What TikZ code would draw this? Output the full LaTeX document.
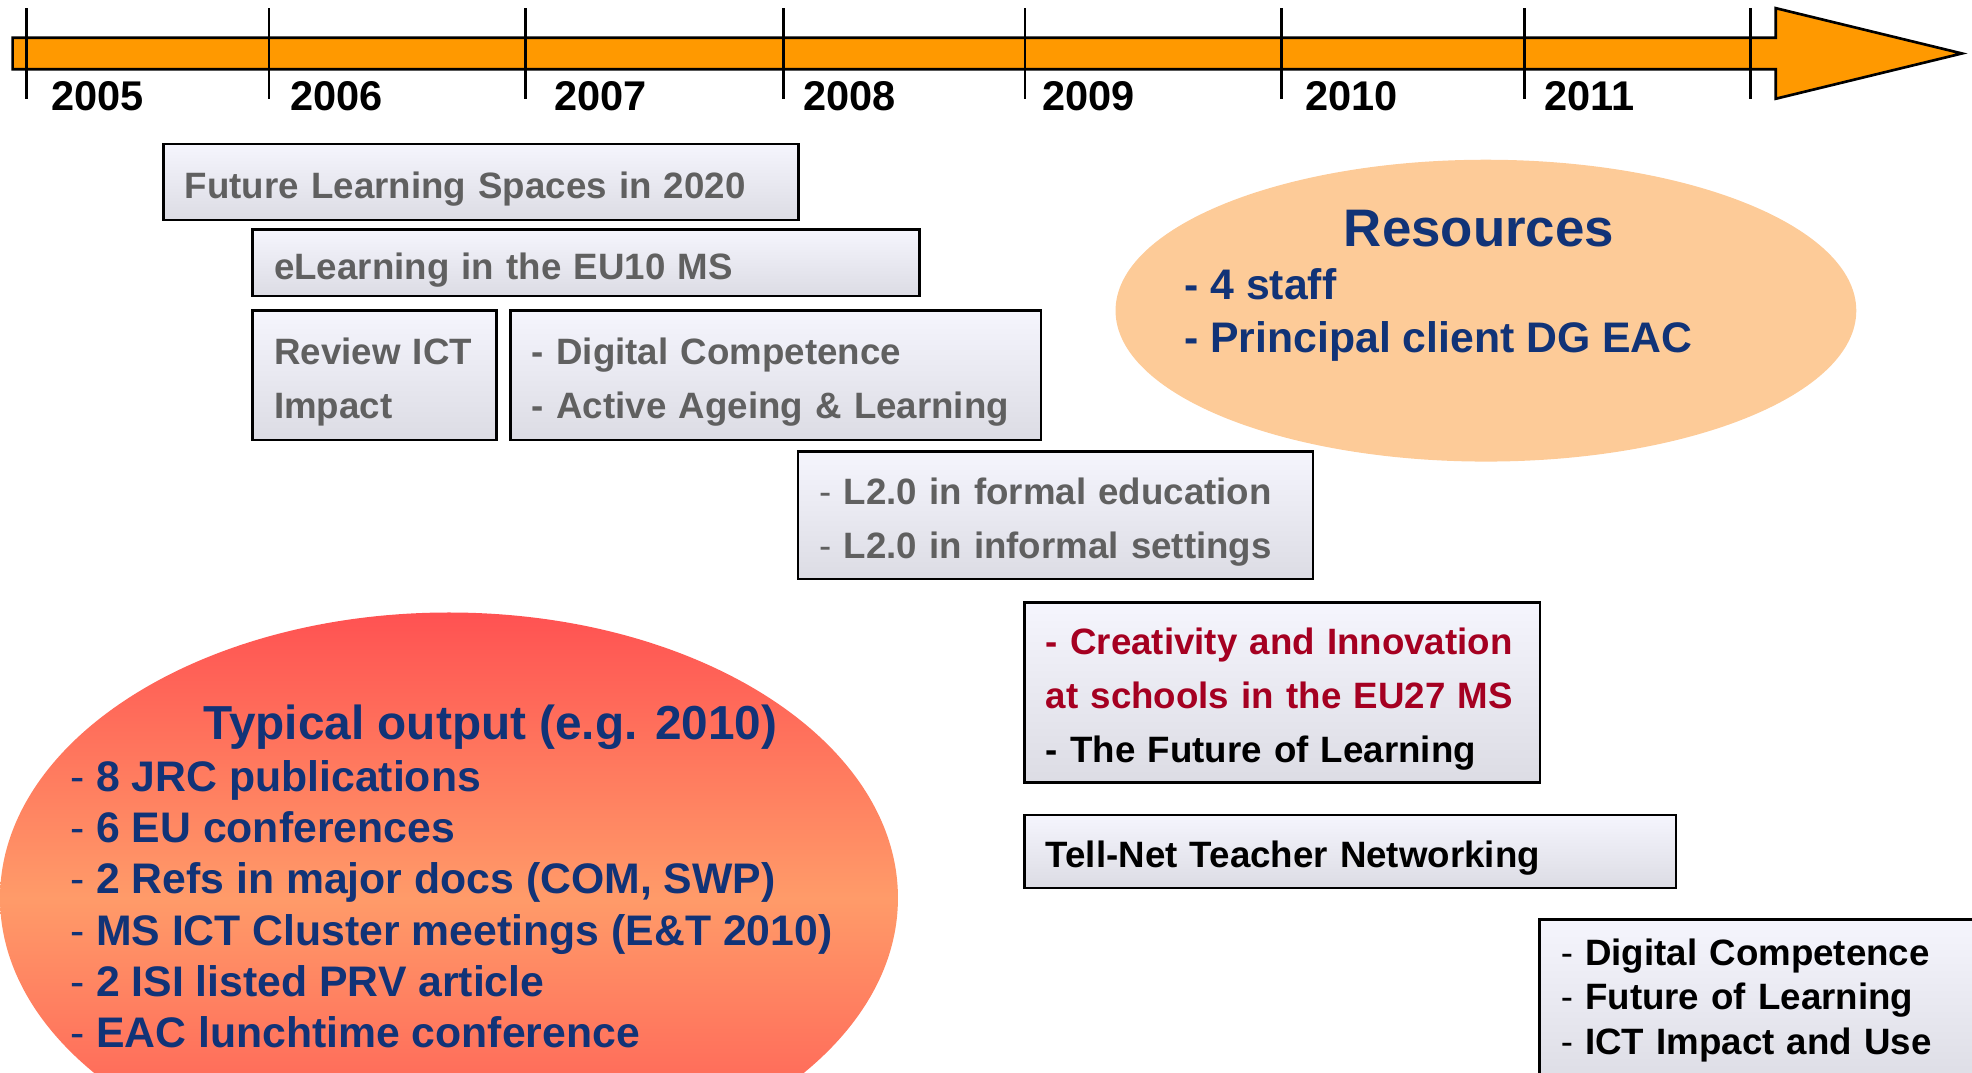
\documentclass[tikz,border=0pt]{standalone}
\usepackage{fontspec}
\setmainfont{Liberation Sans}
\usepackage{tikz}
\usetikzlibrary{shapes.geometric}
\definecolor{barorange}{RGB}{255,153,0}
\definecolor{boxtop}{RGB}{245,245,253}
\definecolor{boxbottom}{RGB}{220,220,228}
\definecolor{greytext}{RGB}{96,96,96}
\definecolor{jrcred}{RGB}{165,0,33}
\definecolor{deepnavy}{RGB}{17,51,119}
\definecolor{peach}{RGB}{253,203,152}
\definecolor{hotred}{RGB}{255,82,82}
\definecolor{outmid}{RGB}{255,155,105}
\newcommand{\litedash}{{\mdseries -}}

\tikzset{
  project/.style={draw=black, line width=0.6pt, top color=boxtop, bottom color=boxbottom,
    anchor=north west, align=left, inner xsep=1.7mm, inner ysep=0pt, outer sep=0pt,
    text height=3.25mm, font=\fontsize{8.3}{12.2}\selectfont\bfseries, text=greytext},
  year/.style={anchor=base west, inner sep=0pt, font=\fontsize{9.4}{11}\selectfont\bfseries},
  listitem/.style={anchor=base west, inner sep=0pt, text=deepnavy,
    font=\fontsize{9.67}{11}\selectfont\bfseries},
  heading/.style={anchor=base, inner sep=0pt, text=deepnavy, font=\bfseries},
}

\begin{document}
\begin{tikzpicture}[x=0.1mm, y=0.1mm]
    \path[use as bounding box] (0,0) rectangle (1568,-853);
    \clip (0,0) rectangle (1568,-853);
    % time line
    \filldraw[fill=barorange, draw=black, line width=0.6pt] (10,-30) -- (1412,-30) -- (1412,-6.5)
        -- (1560,-42.5) -- (1412,-78.5) -- (1412,-55) -- (10,-55) -- cycle;
    \foreach \x in {21,214,418,623,815,1019,1212,1392}
        \draw[line width=0.6pt] (\x,-6.5) -- (\x,-79);
    \foreach \yr/\x in {2005/40,2006/230,2007/440,2008/638,2009/828,2010/1037,2011/1227}
        \node[year] (y\yr) at (\x,-87.5) {\yr};

    % projects
    \node[project, text width=47.1mm, minimum height=6.05mm] (spaces) at (130,-114.5)
        {Future Learning Spaces in 2020};
    \node[project, text width=49.6mm, minimum height=5.3mm] (elearn) at (201,-182.3)
        {eLearning in the EU10 MS};
    \node[project, text width=16mm, minimum height=10.28mm] (review) at (201,-247)
        {Review ICT\\Impact};
    \node[project, text width=38.77mm, minimum height=10.28mm] (digital) at (406,-247)
        {- Digital Competence\\- Active Ageing \& Learning};
    \node[project, text width=37.56mm, minimum height=10.15mm] (ltwo) at (634.4,-359)
        {\litedash{} L2.0 in formal education\\\litedash{} L2.0 in informal settings};
    \node[project, text=black, text width=37.59mm, minimum height=14.3mm] (creative) at (814.6,-479)
        {\textcolor{jrcred}{- Creativity and Innovation}\\\textcolor{jrcred}{at schools in the EU27 MS}\\- The Future of Learning};
    \node[project, text=black, text width=48.4mm, minimum height=5.8mm] (tellnet) at (814.6,-648)
        {Tell-Net Teacher Networking};
    \node[project, text=black, text width=32.6mm, minimum height=13.5mm, text height=1.5mm,
        font=\fontsize{8.3}{10.1}\selectfont\bfseries] (future) at (1224,-731)
        {\litedash{} Digital Competence\\\litedash{} Future of Learning\\\litedash{} ICT Impact and Use};

    % resources
    \node[ellipse, fill=peach, minimum width=58.9mm, minimum height=24mm, inner sep=0pt] (resources)
        at (1181.5,-247) {};
    \node[heading, font=\fontsize{11.95}{14}\selectfont\bfseries] (restitle) at (1176,-196) {Resources};
    \node[listitem] (staff) at (941,-238) {- 4 staff};
    \node[listitem] (client) at (941,-280) {- Principal client DG EAC};

    % typical output
    \node[ellipse, top color=hotred, bottom color=hotred, middle color=outmid,
        minimum width=71.4mm, minimum height=45.4mm, inner sep=0pt] (output) at (357,-714) {};
    \node[heading, font=\fontsize{10.8}{13}\selectfont\bfseries] (outtitle) at (390,-588)
        {Typical output (e.g. 2010)};
    \foreach \txt [count=\i] in {{8 JRC publications}, {6 EU conferences},
        {2 Refs in major docs (COM, SWP)}, {MS ICT Cluster meetings (E\&T 2010)},
        {2 ISI listed PRV article}, {EAC lunchtime conference}}
        \node[listitem] (item\i) at (55,{-629-40.8*(\i-1)}) {\litedash{} \txt};
\end{tikzpicture}
\end{document}
